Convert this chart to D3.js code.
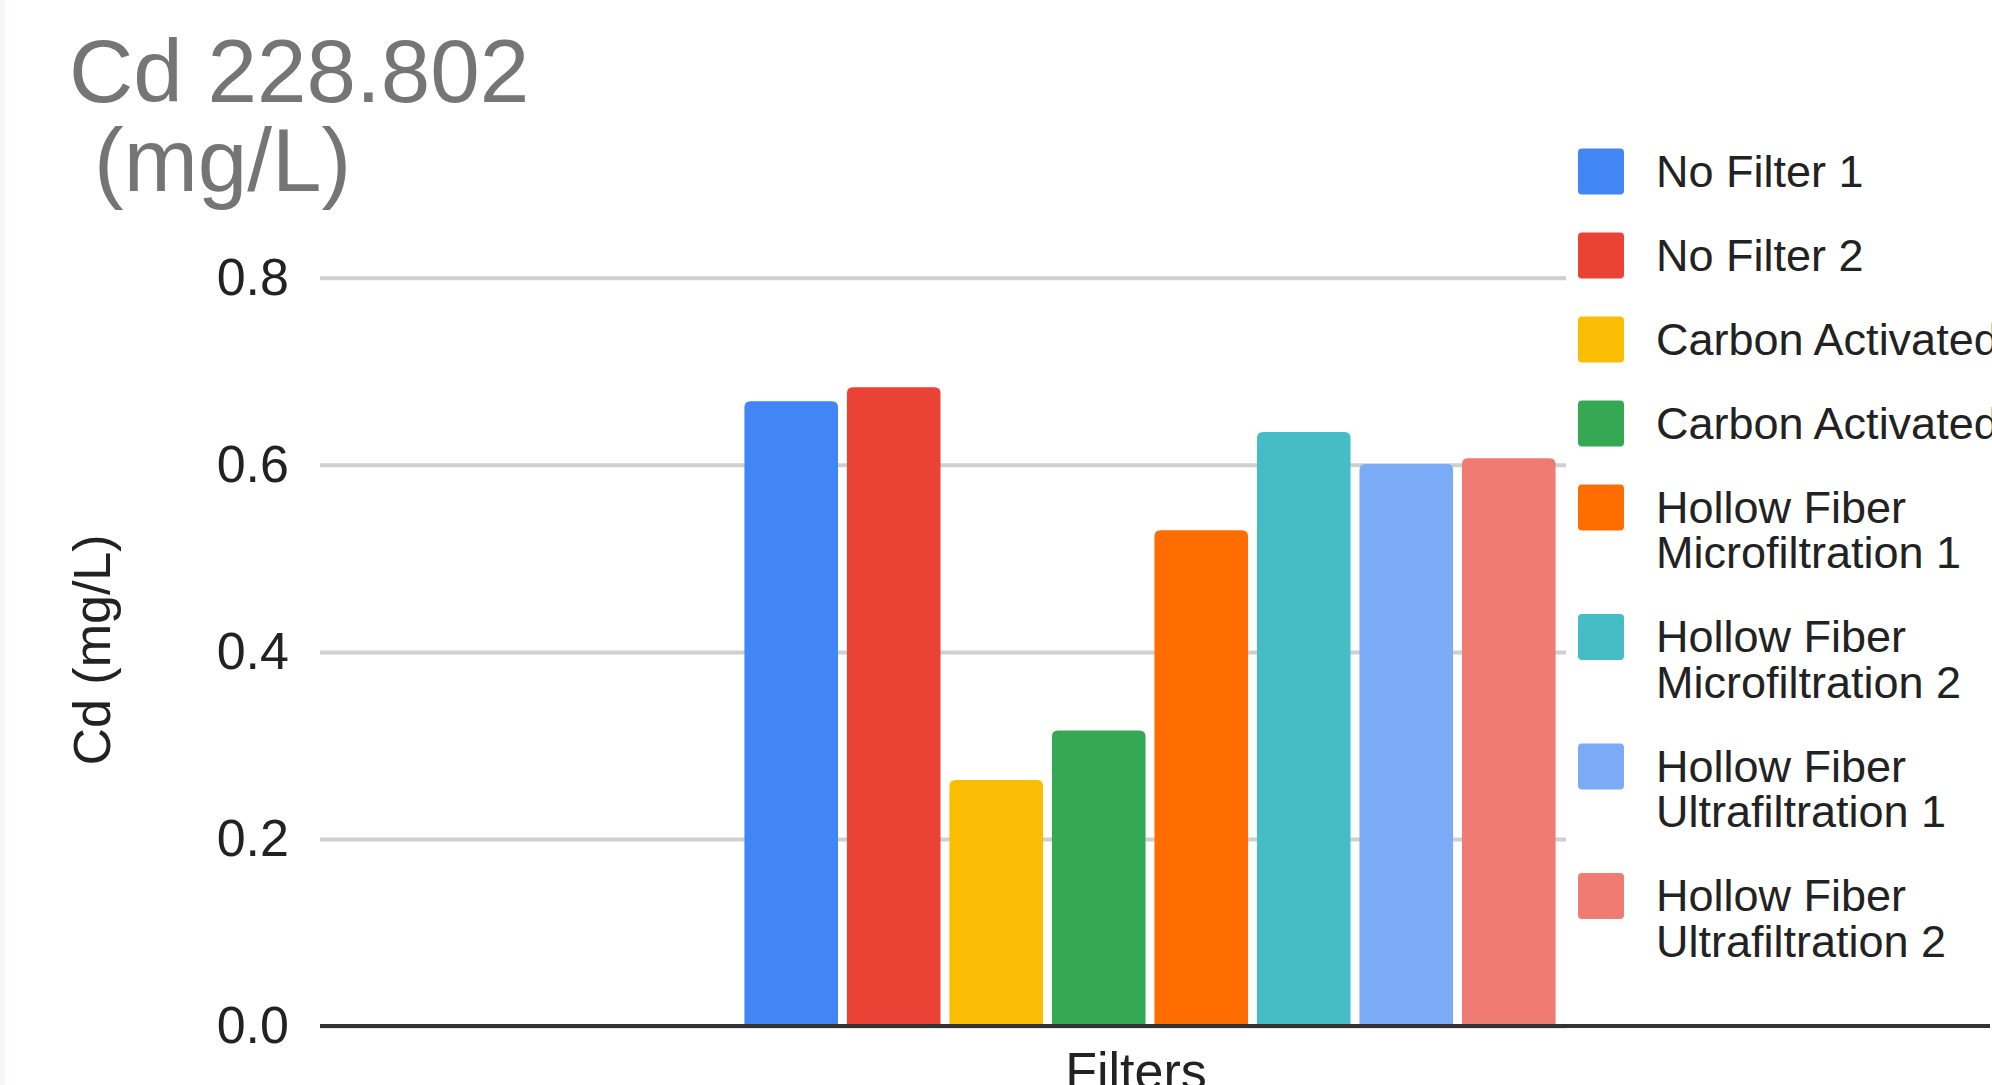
<!DOCTYPE html>
<html>
<head>
<meta charset="utf-8">
<script src="https://cdn.jsdelivr.net/npm/d3@7"></script>
<style>
  html, body { margin: 0; padding: 0; background: #ffffff; overflow: hidden; }
  svg { display: block; font-family: "Liberation Sans", Arial, sans-serif; }
</style>
</head>
<body>
<svg id="chart" width="1992" height="1085"></svg>
<script>
// ---- data ----
const categories = ["Filters"];
const seriesNames = [
  "No Filter 1",
  "No Filter 2",
  "Carbon Activated 1",
  "Carbon Activated 2",
  "Hollow Fiber Microfiltration 1",
  "Hollow Fiber Microfiltration 2",
  "Hollow Fiber Ultrafiltration 1",
  "Hollow Fiber Ultrafiltration 2"
];
const seriesValues = [0.668, 0.683, 0.263, 0.316, 0.530, 0.635, 0.601, 0.607];
const seriesColors = ["#4285F4", "#EA4335", "#FBBC04", "#34A853", "#FF6D01", "#46BDC6", "#7BAAF7", "#F07B72"];
const yTicks = [0.0, 0.2, 0.4, 0.6, 0.8];
const titleLines = ["Cd 228.802", "(mg/L)"];
const yAxisTitle = "Cd (mg/L)";

// ---- layout ----
const svg = d3.select("#chart");
const W = 1992, H = 1085;
const plot = { left: 320, right: 1980, top: 277.8, bottom: 1026 };
const legendLeft = 1566;
const textColor = "#222222";

// left edge strip
svg.append("rect").attr("x", 0).attr("y", 0).attr("width", 5).attr("height", H).attr("fill", "#f6f8f4");

const y = d3.scaleLinear().domain([0, 0.8]).range([plot.bottom, plot.top]);
const x0 = d3.scaleBand().domain(categories).range([plot.left, plot.right]).paddingInner(0.3435).paddingOuter(0.3435);
const x1 = d3.scaleBand().domain(seriesNames).range([0, x0.bandwidth()]).paddingInner(0.087).paddingOuter(0);

// y axis with gridlines
const yAxis = d3.axisLeft(y)
  .tickValues(yTicks)
  .tickFormat(d3.format(".1f"))
  .tickSize(-(legendLeft - plot.left))
  .tickPadding(31);
const gy = svg.append("g").attr("transform", `translate(${plot.left},0)`).call(yAxis);
gy.select(".domain").remove();
gy.selectAll(".tick line").attr("stroke", "#cfcfcf").attr("stroke-width", 4);
gy.selectAll(".tick text")
  .attr("fill", textColor)
  .style("font-size", "52px")
  .style("font-family", "'Liberation Sans', Arial, sans-serif");

// bars with rounded top corners
function topRounded(x, yTop, w, h, r) {
  r = Math.min(r, w / 2, h);
  return `M${x},${yTop + h}` +
    `V${yTop + r}` +
    `Q${x},${yTop} ${x + r},${yTop}` +
    `H${x + w - r}` +
    `Q${x + w},${yTop} ${x + w},${yTop + r}` +
    `V${yTop + h}Z`;
}

const barData = seriesNames.map((name, i) => ({ name, value: seriesValues[i], color: seriesColors[i], cat: categories[0] }));
svg.append("g").selectAll("path").data(barData).join("path")
  .attr("d", d => {
    const bx = x0(d.cat) + x1(d.name);
    const by = y(d.value);
    return topRounded(bx, by, x1.bandwidth(), y(0) - by, 6);
  })
  .attr("fill", d => d.color);

// baseline
svg.append("line")
  .attr("x1", plot.left).attr("x2", 1990)
  .attr("y1", y(0)).attr("y2", y(0))
  .attr("stroke", "#333333").attr("stroke-width", 4);

// x category label
svg.append("text")
  .attr("x", x0(categories[0]) + x0.bandwidth() / 2 - 14)
  .attr("y", 1089)
  .attr("text-anchor", "middle")
  .attr("fill", textColor)
  .style("font-size", "52px")
  .text(categories[0]);

// title
const title = svg.append("text").attr("fill", "#757575").style("font-size", "89px");
title.append("tspan").attr("x", 69).attr("y", 102).text(titleLines[0]);
title.append("tspan").attr("x", 94).attr("y", 191).text(titleLines[1]);

// y axis title
svg.append("text")
  .attr("transform", `translate(110,650) rotate(-90)`)
  .attr("text-anchor", "middle")
  .attr("fill", textColor)
  .style("font-size", "52px")
  .text(yAxisTitle);

// legend
svg.append("rect").attr("x", legendLeft).attr("y", 120).attr("width", W - legendLeft).attr("height", 890).attr("fill", "#ffffff");
function wrapName(name) {
  const words = name.split(" ");
  if (name.length > 20 && words.length > 2) {
    return [words.slice(0, 2).join(" "), words.slice(2).join(" ")];
  }
  return [name];
}
const legend = svg.append("g");
let ly = 148.5;
const swatch = 46, lineH = 45.5, itemGap = 84;
seriesNames.forEach((name, i) => {
  const lines = wrapName(name);
  legend.append("rect")
    .attr("x", 1578).attr("y", ly)
    .attr("width", swatch).attr("height", swatch)
    .attr("rx", 4).attr("fill", seriesColors[i]);
  const t = legend.append("text").attr("fill", textColor).style("font-size", "45px");
  lines.forEach((ln, j) => {
    t.append("tspan").attr("x", 1656).attr("y", ly + 38 + j * lineH).text(ln);
  });
  ly += itemGap + (lines.length - 1) * lineH;
});
</script>
</body>
</html>
